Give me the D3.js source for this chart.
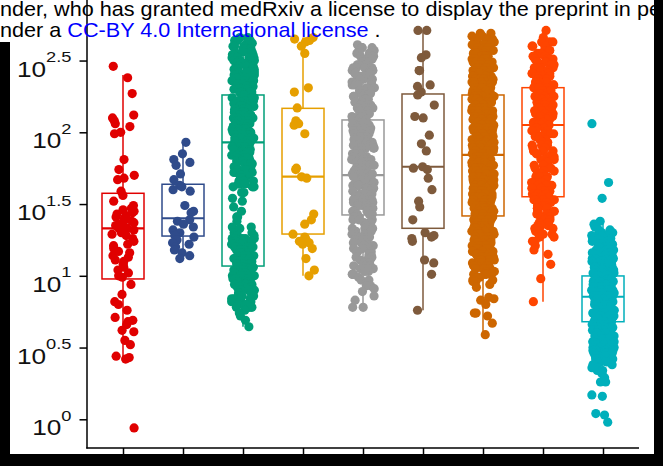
<!DOCTYPE html>
<html><head><meta charset="utf-8">
<script src="https://cdn.jsdelivr.net/npm/d3@7"></script>
<style>html,body{margin:0;padding:0;background:#fff;overflow:hidden}svg{display:block}</style>
</head><body><svg id="c" width="663" height="466"></svg>
<script>
// ---------- data (log10 units) ----------
const categories = ["G1","G2","G3","G4","G5","G6","G7","G8","G9"];
const colors = ["#E00000","#2F4B8B","#009E78","#E69F00","#999999","#7E5A3C","#CD6600","#FF4500","#00AFBB"];
const whiskerHigh = [2.40, 1.93, 2.66, 2.66, 2.61, 2.71, 2.69, 2.71, 1.38];
const q3Values    = [1.575, 1.638, 2.26, 2.167, 2.086, 2.267, 2.26, 2.311, 0.999];
const medians     = [1.331, 1.401, 1.93, 1.691, 1.702, 1.760, 1.842, 2.051, 0.854];
const q1Values    = [0.978, 1.277, 1.068, 1.291, 1.424, 1.331, 1.417, 1.551, 0.68];
const whiskerLow  = [0.42, 1.12, 0.645, 1.00, 0.775, 0.76, 0.59, 0.82, 0.24];
const yTicks = [0, 0.5, 1, 1.5, 2, 2.5];
const yTickExponents = ["0", "0.5", "1", "1.5", "2", "2.5"];
const headerLine1 = "nder, who has granted medRxiv a license to display the preprint in pe";
const headerLine2a = "nder a ";
const headerLink = "CC-BY 4.0 International license";
const headerLine2b = " .";

// sparse groups: individual values
const g1 = [2.46,2.38,2.27,2.12,2.10,2.08,2.06,2.04,2.00,1.99,1.81,1.74,1.70,1.68,1.67,1.59,1.56,1.52,1.49,1.47,1.46,1.45,1.44,1.43,1.42,1.41,1.40,1.39,1.38,1.37,1.36,1.35,1.34,1.33,1.33,1.32,1.31,1.30,1.29,1.28,1.26,1.24,1.22,1.21,1.19,1.17,1.16,1.14,1.13,1.11,1.10,1.08,1.06,1.04,1.02,1.00,0.99,0.94,0.87,0.82,0.80,0.76,0.71,0.69,0.68,0.66,0.62,0.61,0.55,0.52,0.44,0.43,0.42,-0.06];
const g2 = [1.93,1.85,1.81,1.79,1.77,1.71,1.67,1.63,1.62,1.60,1.59,1.49,1.45,1.44,1.39,1.38,1.36,1.34,1.32,1.30,1.28,1.27,1.25,1.23,1.22,1.20,1.18,1.16,1.14,1.12];
const g4 = [2.66,2.65,2.64,2.63,2.60,2.55,2.31,2.28,2.17,2.08,2.06,2.05,1.99,1.75,1.74,1.69,1.68,1.43,1.39,1.36,1.29,1.27,1.26,1.25,1.24,1.23,1.22,1.19,1.12,1.04,1.00];
const g6 = [2.71,2.71,2.54,2.52,2.43,2.43,2.33,2.32,2.28,2.26,2.19,2.11,2.10,1.98,1.92,1.87,1.76,1.75,1.74,1.68,1.60,1.52,1.48,1.39,1.30,1.28,1.27,1.26,1.24,1.11,1.09,1.01,0.76];
// dense groups: [value, count]
const g3 = [[2.66,2],[2.64,3],[2.62,3],[2.60,3],[2.58,4],[2.56,4],[2.54,4],[2.52,4],[2.50,5],[2.48,5],[2.46,5],[2.44,5],[2.42,5],[2.40,5],[2.38,5],[2.36,5],[2.34,5],[2.32,5],[2.30,5],[2.28,5],[2.26,5],[2.24,5],[2.22,5],[2.20,5],[2.18,5],[2.16,5],[2.14,5],[2.12,5],[2.10,5],[2.08,5],[2.06,5],[2.04,5],[2.02,5],[2.00,5],[1.98,5],[1.96,5],[1.94,4],[1.92,5],[1.90,5],[1.88,4],[1.86,5],[1.84,4],[1.82,5],[1.80,4],[1.78,4],[1.76,5],[1.74,4],[1.72,4],[1.70,4],[1.68,3],[1.66,4],[1.64,3],[1.62,3],[1.58,2],[1.54,1],[1.52,1],[1.48,1],[1.45,1],[1.41,2],[1.38,1],[1.34,2],[1.33,1],[1.30,2],[1.28,3],[1.26,5],[1.24,5],[1.22,5],[1.20,5],[1.18,5],[1.16,5],[1.14,5],[1.12,5],[1.10,5],[1.08,5],[1.06,5],[1.04,5],[1.02,5],[1.00,5],[0.98,5],[0.96,5],[0.94,5],[0.92,5],[0.90,5],[0.88,4],[0.86,4],[0.84,4],[0.82,3],[0.80,3],[0.78,3],[0.76,1],[0.74,1],[0.72,1],[0.69,1],[0.645,1]];
const g5 = [[2.61,1],[2.59,3],[2.57,3],[2.55,3],[2.53,3],[2.51,3],[2.49,3],[2.47,3],[2.45,4],[2.43,3],[2.41,4],[2.39,3],[2.37,4],[2.35,3],[2.33,4],[2.31,3],[2.29,3],[2.27,4],[2.25,3],[2.23,4],[2.21,3],[2.19,3],[2.17,4],[2.15,3],[2.13,3],[2.11,3],[2.09,3],[2.07,2],[2.05,3],[2.03,3],[2.01,4],[1.99,4],[1.97,4],[1.95,3],[1.93,4],[1.91,4],[1.89,4],[1.87,4],[1.85,4],[1.83,4],[1.81,3],[1.79,4],[1.77,4],[1.75,4],[1.73,4],[1.71,4],[1.69,4],[1.67,4],[1.65,4],[1.63,4],[1.61,4],[1.59,4],[1.57,3],[1.55,4],[1.53,4],[1.51,3],[1.49,4],[1.47,3],[1.45,4],[1.43,3],[1.41,3],[1.39,3],[1.37,3],[1.35,3],[1.33,3],[1.31,3],[1.29,3],[1.27,3],[1.25,3],[1.23,3],[1.21,3],[1.19,3],[1.17,3],[1.15,3],[1.13,3],[1.11,3],[1.09,3],[1.07,3],[1.05,3],[1.03,2],[1.01,3],[0.99,1],[0.97,2],[0.95,1],[0.93,2],[0.91,1],[0.89,1],[0.86,1],[0.83,1],[0.78,2]];
const g7 = [[2.69,2],[2.67,3],[2.65,5],[2.63,6],[2.61,6],[2.59,6],[2.57,6],[2.55,5],[2.53,6],[2.51,6],[2.49,6],[2.47,6],[2.45,5],[2.43,6],[2.41,6],[2.39,6],[2.37,6],[2.35,6],[2.33,5],[2.31,6],[2.29,6],[2.27,6],[2.25,6],[2.23,6],[2.21,5],[2.19,6],[2.17,6],[2.15,6],[2.13,6],[2.11,5],[2.09,6],[2.07,6],[2.05,6],[2.03,6],[2.01,5],[1.99,6],[1.97,6],[1.95,6],[1.93,6],[1.91,5],[1.89,6],[1.87,6],[1.85,6],[1.83,6],[1.81,5],[1.79,6],[1.77,6],[1.75,6],[1.73,6],[1.71,5],[1.69,6],[1.67,6],[1.65,6],[1.63,6],[1.61,5],[1.59,6],[1.57,6],[1.55,6],[1.53,6],[1.51,5],[1.49,6],[1.47,6],[1.45,6],[1.43,6],[1.41,5],[1.39,6],[1.37,6],[1.35,6],[1.33,6],[1.31,5],[1.29,6],[1.27,6],[1.25,6],[1.23,5],[1.21,6],[1.19,6],[1.17,5],[1.15,6],[1.13,5],[1.11,6],[1.09,5],[1.07,5],[1.05,5],[1.03,4],[1.01,4],[0.99,3],[0.97,2],[0.96,2],[0.94,1],[0.92,1],[0.85,1],[0.84,1],[0.83,1],[0.80,1],[0.74,2],[0.72,1],[0.67,1],[0.59,1]];
const g8 = [[2.71,1],[2.66,1],[2.63,3],[2.60,3],[2.57,3],[2.55,3],[2.53,4],[2.51,4],[2.49,4],[2.47,4],[2.45,4],[2.43,3],[2.41,4],[2.39,4],[2.37,4],[2.35,4],[2.33,4],[2.31,4],[2.29,4],[2.27,4],[2.25,4],[2.23,4],[2.21,3],[2.19,4],[2.17,4],[2.15,4],[2.13,3],[2.11,3],[2.09,3],[2.07,3],[2.05,4],[2.03,3],[2.01,3],[1.99,3],[1.97,3],[1.95,2],[1.93,3],[1.91,3],[1.89,2],[1.87,3],[1.85,3],[1.83,3],[1.81,3],[1.79,2],[1.77,2],[1.75,3],[1.73,3],[1.71,3],[1.69,4],[1.67,3],[1.65,4],[1.63,4],[1.61,3],[1.59,4],[1.57,4],[1.55,3],[1.53,4],[1.51,3],[1.49,3],[1.47,3],[1.45,3],[1.43,3],[1.41,3],[1.39,3],[1.37,3],[1.35,3],[1.33,3],[1.31,2],[1.29,3],[1.27,2],[1.24,2],[1.21,1],[1.18,1],[1.15,1],[1.08,1],[0.98,1],[0.82,1]];
const g9 = [[2.06,1],[1.65,1],[1.54,1],[1.38,1],[1.36,1],[1.34,2],[1.32,2],[1.30,3],[1.28,5],[1.26,6],[1.24,6],[1.22,6],[1.20,6],[1.18,6],[1.16,6],[1.14,6],[1.12,6],[1.10,6],[1.08,6],[1.06,6],[1.04,6],[1.02,6],[1.00,6],[0.98,6],[0.96,6],[0.94,6],[0.92,6],[0.90,6],[0.88,6],[0.86,6],[0.84,6],[0.82,6],[0.80,6],[0.78,6],[0.76,6],[0.74,6],[0.72,6],[0.70,6],[0.68,6],[0.66,6],[0.64,6],[0.62,6],[0.60,6],[0.58,6],[0.56,6],[0.54,5],[0.52,5],[0.50,5],[0.48,5],[0.46,5],[0.44,4],[0.42,4],[0.40,3],[0.38,3],[0.36,2],[0.34,2],[0.32,1],[0.29,1],[0.26,2],[0.17,1],[0.16,1],[0.04,1],[0.03,1],[-0.02,1]];
const groupValues = [g1,g2,g3,g4,g5,g6,g7,g8,g9];

// ---------- drawing ----------
const svg = d3.select("#c");
const W = 663, H = 466;
svg.append("rect").attr("width", W).attr("height", H).attr("fill", "#fff");

const x = d3.scalePoint().domain(categories).range([87, 639]).padding(0.6);
const y = d3.scaleLinear().domain([0, 2.5]).range([419.3, 60.55]);
const step = x.step();
const boxW = step * 0.7;

function mulberry32(a){return function(){a|=0;a=a+0x6D2B79F5|0;let t=Math.imul(a^a>>>15,1|a);t=t+Math.imul(t^t>>>7,61|t)^t;return((t^t>>>14)>>>0)/4294967296;}}
const expand = arr => arr.flatMap(d => Array.isArray(d) ? d3.range(d[1]).map(() => d[0]) : [d]);

const boxes = svg.append("g");
categories.forEach((c, i) => {
  const cx = x(c), col = colors[i];
  const g = boxes.append("g").attr("stroke", col).attr("fill", "none");
  g.append("line").attr("x1", cx).attr("x2", cx).attr("y1", y(q3Values[i])).attr("y2", y(whiskerHigh[i])).attr("stroke-width", 1.5);
  g.append("line").attr("x1", cx).attr("x2", cx).attr("y1", y(q1Values[i])).attr("y2", y(whiskerLow[i])).attr("stroke-width", 1.5);
  g.append("rect").attr("x", cx - boxW/2).attr("width", boxW)
    .attr("y", y(q3Values[i])).attr("height", y(q1Values[i]) - y(q3Values[i])).attr("stroke-width", 1.5);
  g.append("line").attr("x1", cx - boxW/2).attr("x2", cx + boxW/2).attr("y1", y(medians[i])).attr("y2", y(medians[i])).attr("stroke-width", 2.2);
});

const pts = svg.append("g");
categories.forEach((c, i) => {
  const rnd = mulberry32(1234 + i * 977);
  const vals = expand(groupValues[i]);
  pts.selectAll(null).data(vals).enter().append("circle")
    .attr("cx", () => x(c) + (rnd() - 0.5) * 2 * 0.19 * step)
    .attr("cy", d => y(d))
    .attr("r", 4.6)
    .attr("fill", colors[i]);
});

// axes
const yAxis = d3.axisLeft(y).tickValues(yTicks).tickSize(7.5).tickSizeOuter(0).tickFormat("");
const gy = svg.append("g").attr("transform", "translate(87,0)").call(yAxis);
gy.select(".domain").remove();
gy.selectAll(".tick line").attr("stroke", "#000").attr("stroke-width", 1.5);
svg.append("line").attr("x1", 87).attr("x2", 87).attr("y1", 0).attr("y2", 448.5).attr("stroke", "#000").attr("stroke-width", 1.5);

const xAxis = d3.axisBottom(x).tickSize(7).tickSizeOuter(0).tickFormat("");
const gx = svg.append("g").attr("transform", "translate(0,448)").call(xAxis);
gx.select(".domain").remove();
gx.selectAll(".tick line").attr("stroke", "#000").attr("stroke-width", 1.5);
svg.append("line").attr("x1", 86.25).attr("x2", 639).attr("y1", 448).attr("y2", 448).attr("stroke", "#000").attr("stroke-width", 1.5);

yTicks.forEach((t, i) => {
  const g = svg.append("g").attr("transform", `translate(71.5,${y(t)}) scale(1.22,1)`);
  const txt = g.append("text").attr("text-anchor", "end").attr("y", 16)
    .attr("font-family", "'Liberation Sans', Arial, sans-serif").attr("font-size", 21.5).attr("fill", "#111");
  txt.append("tspan").text("10");
  txt.append("tspan").attr("font-size", 15).attr("dy", -14.5).text(yTickExponents[i]);
});

// header text (page watermark)
const hdr = svg.append("g").attr("font-family", "'Liberation Sans', Arial, sans-serif").attr("font-size", 20.5);
hdr.append("text").attr("transform", "translate(0,16) scale(1.055,1)").attr("fill", "#000").text(headerLine1);
const t2 = hdr.append("text").attr("transform", "translate(0,37) scale(1.055,1)").attr("fill", "#000");
t2.append("tspan").text(headerLine2a);
t2.append("tspan").attr("fill", "#0000FF").text(headerLink);
t2.append("tspan").text(headerLine2b);

// black frame edges of the screenshot
svg.append("rect").attr("x", 0).attr("y", 42).attr("width", 10).attr("height", H - 42).attr("fill", "#000");
svg.append("rect").attr("x", 654).attr("y", 0).attr("width", W - 654).attr("height", H).attr("fill", "#000");
svg.append("rect").attr("x", 0).attr("y", 454).attr("width", W).attr("height", H - 454).attr("fill", "#000");
</script></body></html>
